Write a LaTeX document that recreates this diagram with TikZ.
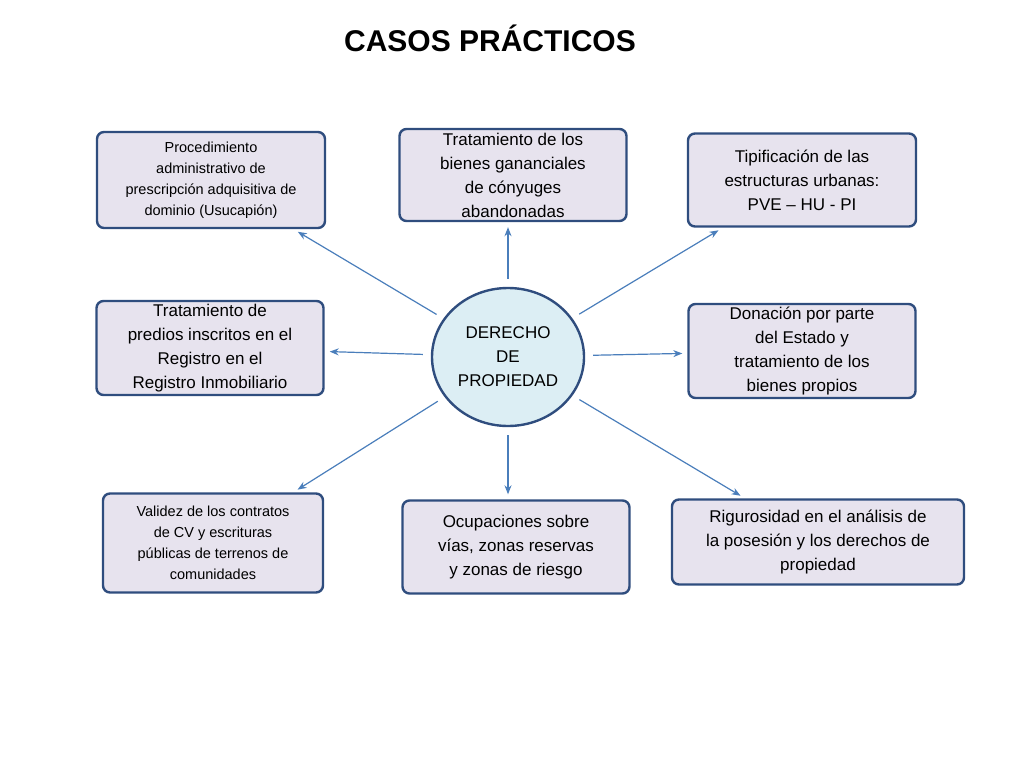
\documentclass[tikz,border=0pt]{standalone}
\usepackage{fontspec}
\setmainfont{Liberation Sans}
\usetikzlibrary{arrows.meta,shapes.geometric}
\definecolor{boxline}{HTML}{2F4D7E}
\definecolor{boxfill}{HTML}{E7E3EE}
\definecolor{circfill}{HTML}{DCEEF4}
\definecolor{arrowc}{HTML}{4A7EBB}
\tikzset{
    caso/.style = {
        draw=boxline, line width=2.4pt, fill=boxfill,
        rounded corners=7pt, align=center, inner sep=2pt,
        font=\fontsize{17}{24}\selectfont,
        },
    caso small/.style = {
        caso, font=\fontsize{14.5}{21}\selectfont,
        },
    centro/.style = {
        draw=boxline, line width=2.4pt, fill=circfill, ellipse,
        minimum width=152pt, minimum height=138pt, align=center,
        font=\fontsize{17}{24}\selectfont,
        },
    rayo/.style = {
        draw=arrowc, line width=1.2pt, -{Stealth[length=9pt,width=7pt]},
        shorten <=8pt, shorten >=5pt,
        },
}
\begin{document}
\begin{tikzpicture}[x=1pt,y=-1pt]
    \useasboundingbox (0,0) rectangle (1024,768);
    \node[font=\bfseries\fontsize{30}{34}\selectfont] (titulo) at (490,38) {CASOS PRÁCTICOS};

    \node[centro] (C) at (508,357) {DERECHO\\DE\\PROPIEDAD};

    \node[caso small, minimum width=228pt, minimum height=96pt] (TL) at (211,180)
        {Procedimiento\\administrativo de\\prescripción adquisitiva de\\dominio (Usucapión)};
    \node[caso, minimum width=227pt, minimum height=92pt] (TM) at (513,175)
        {Tratamiento de los\\bienes gananciales\\de cónyuges\\abandonadas};
    \node[caso, minimum width=228pt, minimum height=93pt] (TR) at (802,180)
        {Tipificación de las\\estructuras urbanas:\\PVE – HU - PI};
    \node[caso, minimum width=227pt, minimum height=94pt] (ML) at (210,348)
        {Tratamiento de\\predios inscritos en el\\Registro en el\\Registro Inmobiliario};
    \node[caso, minimum width=227pt, minimum height=94pt] (MR) at (802,351)
        {Donación por parte\\del Estado y\\tratamiento de los\\bienes propios};
    \node[caso small, minimum width=220pt, minimum height=99pt] (BL) at (213,543)
        {Validez de los contratos\\de CV y escrituras\\públicas de terrenos de\\comunidades};
    \node[caso, minimum width=227pt, minimum height=93pt] (BM) at (516,547)
        {Ocupaciones sobre\\vías, zonas reservas\\y zonas de riesgo};
    \node[caso, minimum width=292pt, minimum height=85pt] (BR) at (818,542)
        {Rigurosidad en el análisis de\\la posesión y los derechos de\\propiedad};

    \draw[rayo] (C) -- (TL);
    \draw[rayo] (C.north) -- (C.north |- TM.south);
    \draw[rayo] (C) -- (TR);
    \draw[rayo] (C) -- (ML);
    \draw[rayo] (C) -- (MR);
    \draw[rayo] (C) -- (BL);
    \draw[rayo] (C.south) -- (C.south |- BM.north);
    \draw[rayo] (C) -- (BR);
\end{tikzpicture}
\end{document}
